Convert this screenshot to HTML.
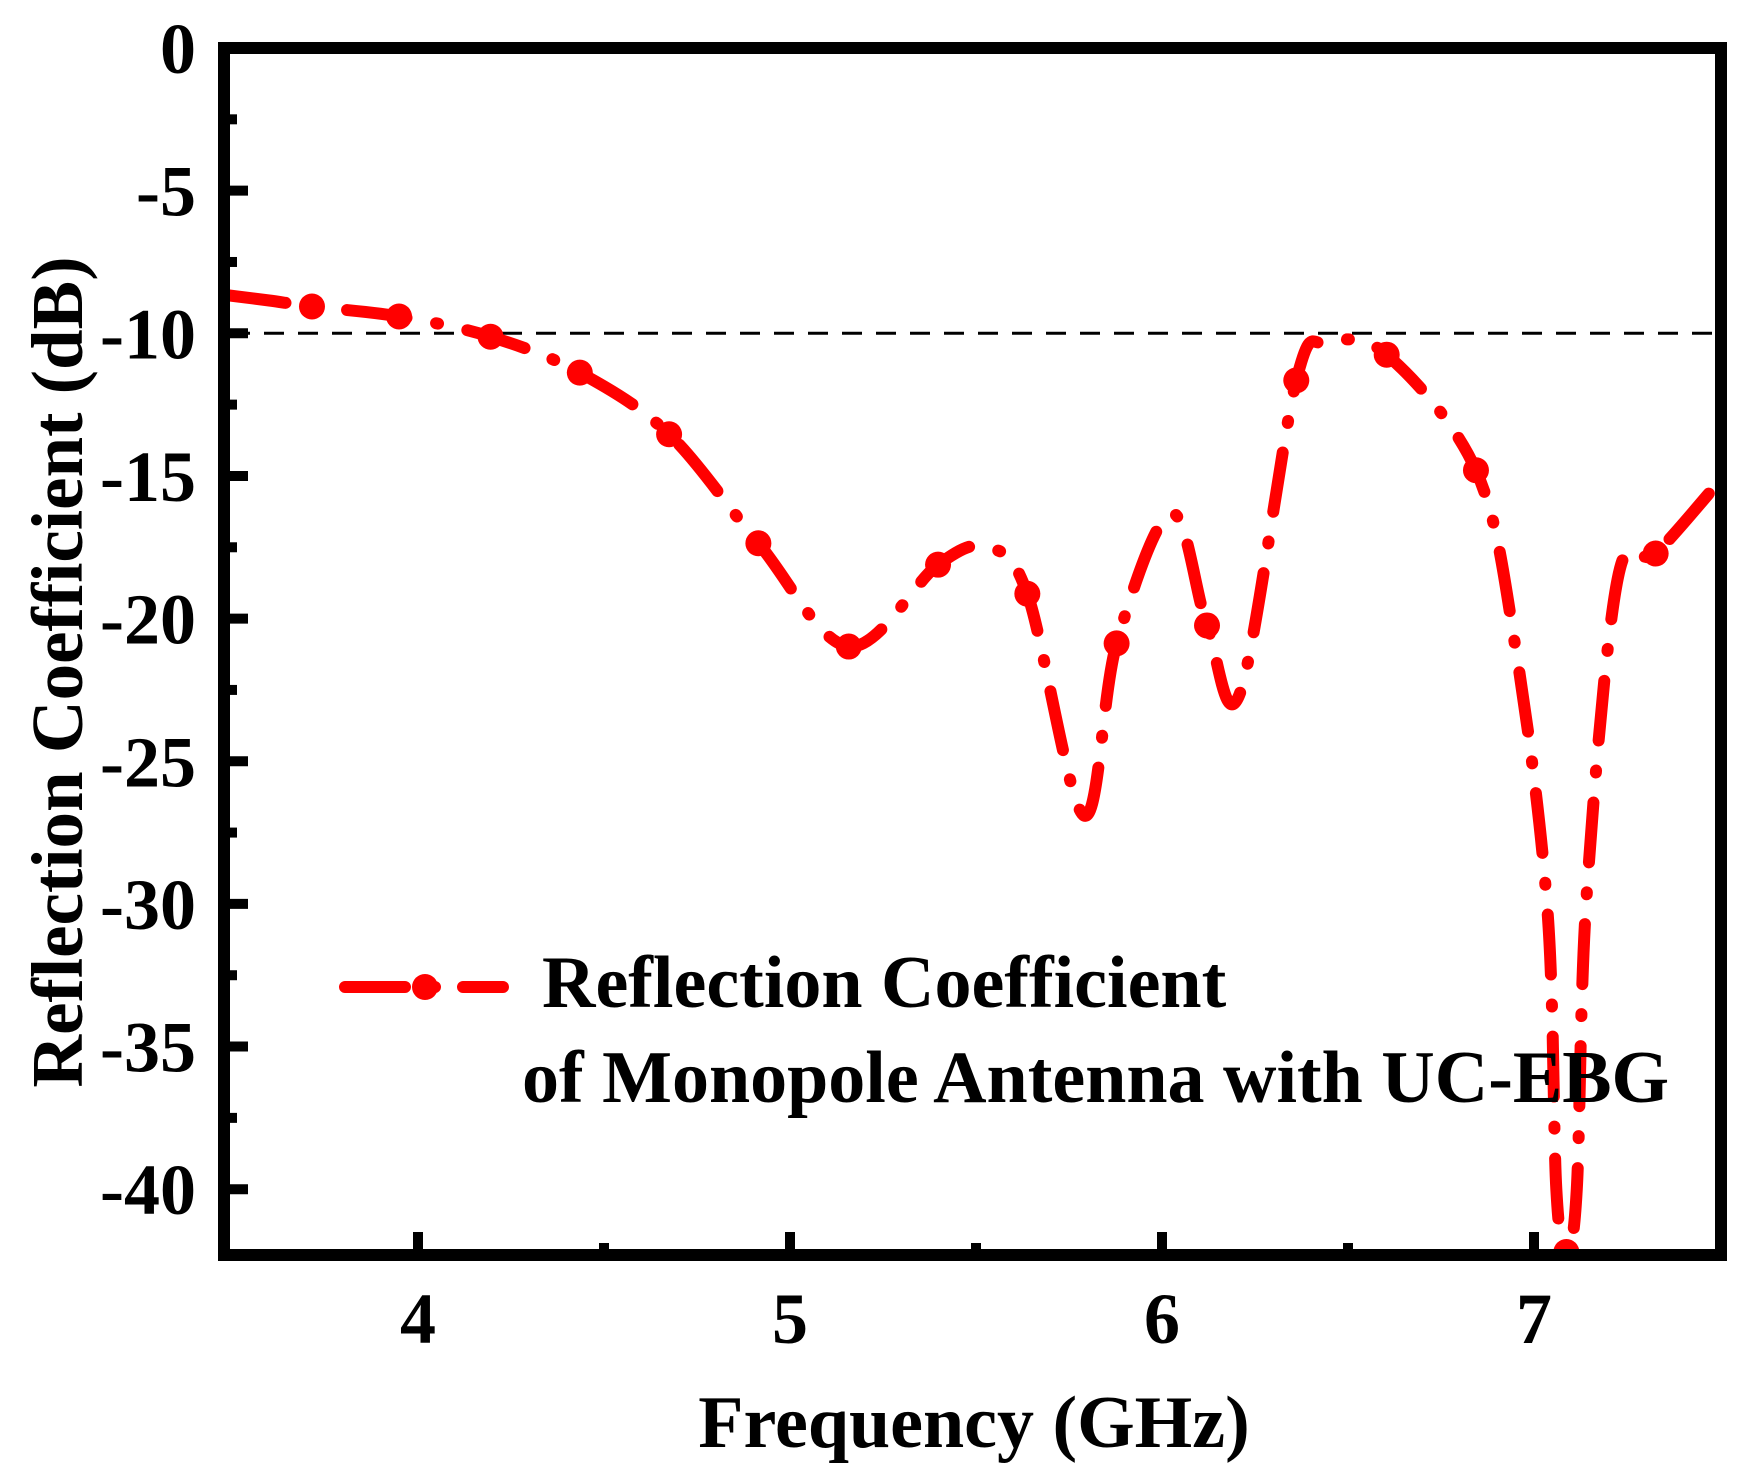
<!DOCTYPE html>
<html><head><meta charset="utf-8"><style>
html,body{margin:0;padding:0;background:#fff;}
svg{display:block;}
text{font-family:"Liberation Serif",serif;font-weight:bold;fill:#000;}
</style></head><body>
<svg id="chart" width="1753" height="1480" viewBox="0 0 1753 1480" xmlns="http://www.w3.org/2000/svg">
<defs><clipPath id="plotclip"><rect x="230" y="54" width="1486" height="1196"/></clipPath></defs>
<g id="grid-layer"></g>
<g id="data-layer" clip-path="url(#plotclip)"></g>
<rect x="224" y="48" width="1497" height="1207" fill="none" stroke="#000" stroke-width="12"/>
<g id="axis-layer"></g>
<text x="974" y="1447" font-size="74" text-anchor="middle">Frequency (GHz)</text>
<text transform="translate(82,672) rotate(-90)" font-size="73" text-anchor="middle">Reflection Coefficient (dB)</text>
<g>
<line x1="345" y1="987" x2="512" y2="987" stroke="#ff0000" stroke-width="12" stroke-linecap="round" stroke-dasharray="60 28 2 28 40"/>
<circle cx="425" cy="987" r="13" fill="#ff0000"/>
<text x="542" y="1007" font-size="74">Reflection Coefficient</text>
<text x="522" y="1102" font-size="74">of Monopole Antenna with UC-EBG</text>
</g>
</svg>
<script>
const curveFreq = [3.484,3.6,3.715,3.949,4.195,4.435,4.675,4.915,5.158,5.398,5.53,5.638,5.79,5.878,6.025,6.121,6.21,6.361,6.445,6.604,6.844,6.95,7.036,7.06,7.087,7.115,7.141,7.225,7.327,7.504];
const curveDb   = [-8.66,-8.85,-9.06,-9.41,-10.12,-11.38,-13.54,-17.36,-20.98,-18.11,-17.5,-19.13,-26.9,-20.87,-16.3,-20.24,-22.6,-11.65,-10.35,-10.75,-14.8,-21,-30.2,-40,-42.2,-40,-29.8,-18.6,-17.72,-15.1];
const markerFreq = [3.715,3.949,4.195,4.435,4.675,4.915,5.158,5.398,5.638,5.878,6.121,6.361,6.604,6.844,7.087,7.327];
const markerDb   = [-9.06,-9.41,-10.12,-11.38,-13.54,-17.36,-20.98,-18.11,-19.13,-20.87,-20.24,-11.65,-10.75,-14.8,-42.2,-17.72];
const xTicks = [4,5,6,7];
const xMinor = [4.5,5.5,6.5];
const yTicks = [0,-5,-10,-15,-20,-25,-30,-35,-40];
const yMinor = [-2.5,-7.5,-12.5,-17.5,-22.5,-27.5,-32.5,-37.5,-42.5];
const refLevel = [-10];

const NS='http://www.w3.org/2000/svg';
function xs(f){return 418+(f-4)*372;}
function ys(d){return 48-d*28.53;}
function mk(tag,attrs,parent){const e=document.createElementNS(NS,tag);for(const k in attrs)e.setAttribute(k,attrs[k]);parent.appendChild(e);return e;}
const data=document.getElementById('data-layer');
const axis=document.getElementById('axis-layer');

refLevel.forEach(v=>{
  const l=mk('line',{x1:230,x2:1716,y1:ys(v),y2:ys(v),stroke:'#000','stroke-width':3,'stroke-dasharray':'20 14'},data);
  
  
});

const pts=curveFreq.map((f,i)=>[xs(f),ys(curveDb[i])]);
let d='M'+pts[0][0]+','+pts[0][1];
for(let i=0;i<pts.length-1;i++){
  const p0=pts[Math.max(0,i-1)],p1=pts[i],p2=pts[i+1],p3=pts[Math.min(pts.length-1,i+2)];
  const c1=[p1[0]+(p2[0]-p0[0])/6,p1[1]+(p2[1]-p0[1])/6];
  const c2=[p2[0]-(p3[0]-p1[0])/6,p2[1]-(p3[1]-p1[1])/6];
  d+=' C'+c1[0]+','+c1[1]+' '+c2[0]+','+c2[1]+' '+p2[0]+','+p2[1];
}
const path=mk('path',{d:d,fill:'none',stroke:'#ff0000','stroke-width':12,'stroke-linecap':'round','stroke-dasharray':'60 30 2 30'},data);



markerFreq.forEach((f,i)=>{
  const c=mk('circle',{cx:xs(f),cy:ys(markerDb[i]),r:13,fill:'#ff0000'},data);
  
  
});

xTicks.forEach(t=>{
  const l=mk('line',{x1:xs(t),x2:xs(t),y1:1250,y2:1232,stroke:'#000','stroke-width':10},axis);
  
  
  const tx=mk('text',{x:xs(t),y:1343,'font-size':72,'text-anchor':'middle'},axis);
  tx.textContent=t;
  
  
});
xMinor.forEach(t=>{
  const l=mk('line',{x1:xs(t),x2:xs(t),y1:1250,y2:1243,stroke:'#000','stroke-width':10},axis);
  
  
});
yTicks.forEach(t=>{
  if(t!==0){
    const l=mk('line',{x1:230,x2:248,y1:ys(t),y2:ys(t),stroke:'#000','stroke-width':10},axis);
    
    
  }
  const tx=mk('text',{x:196,y:ys(t)+25,'font-size':72,'text-anchor':'end'},axis);
  tx.textContent=t;
  
  
});
yMinor.forEach(t=>{
  if(ys(t)>1250)return;
  const l=mk('line',{x1:230,x2:237,y1:ys(t),y2:ys(t),stroke:'#000','stroke-width':10},axis);
  
  
});
</script>
</body></html>
